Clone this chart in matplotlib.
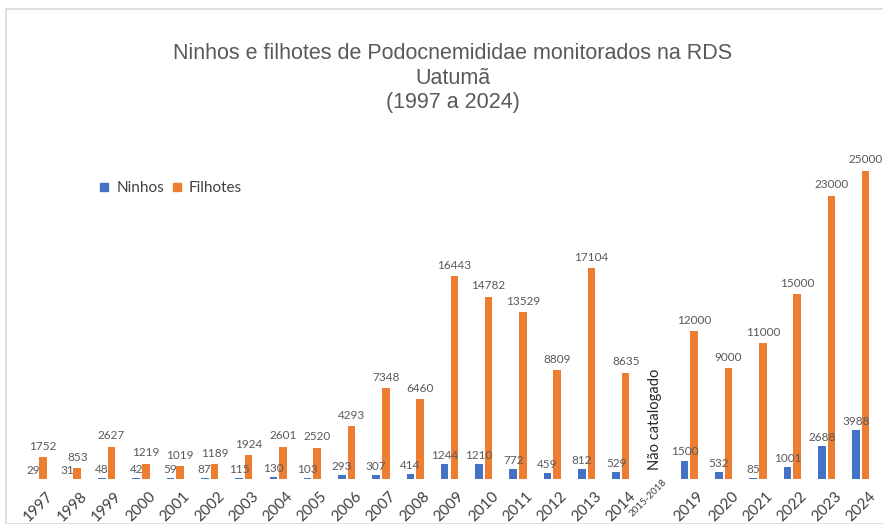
import matplotlib.pyplot as plt
import numpy as np
from matplotlib.patches import Rectangle
from matplotlib.lines import Line2D
from matplotlib.transforms import ScaledTranslation

categories = ["1997", "1998", "1999", "2000", "2001", "2002", "2003", "2004", "2005",
              "2006", "2007", "2008", "2009", "2010", "2011", "2012", "2013", "2014",
              "2015-2018", "2019", "2020", "2021", "2022", "2023", "2024"]
ninhos = [29, 31, 48, 42, 59, 87, 115, 130, 103, 293, 307, 414, 1244, 1210, 772, 459,
          812, 529, None, 1500, 532, 85, 1001, 2688, 3988]
filhotes = [1752, 853, 2627, 1219, 1019, 1189, 1924, 2601, 2520, 4293, 7348, 6460, 16443,
            14782, 13529, 8809, 17104, 8635, None, 12000, 9000, 11000, 15000, 23000, 25000]

BLUE = "#4472C4"
ORANGE = "#ED7D31"
LABEL = "#595959"

fig = plt.figure(figsize=(8.83, 5.24), dpi=100)
fig.patches.append(Rectangle((6/883, 0), 1, 1 - 9/524, transform=fig.transFigure,
                             fill=False, edgecolor="#d9d9d9", linewidth=1.2))
ax = fig.add_axes([21/883, 1 - 479/524, 857/883, (479 - 146.4)/524])

x = np.arange(len(categories))
w = 0.22
off = 0.14
for i in x:
    if ninhos[i] is not None:
        ax.bar(i - off, ninhos[i], width=w, color=BLUE, zorder=2)
        ax.text(i - off, ninhos[i] + 250, str(ninhos[i]), ha="center", va="bottom",
                fontsize=8.5, color=LABEL, family="Lato")
    if filhotes[i] is not None:
        ax.bar(i + off, filhotes[i], width=w, color=ORANGE, zorder=2)
        ax.text(i + off, filhotes[i] + 450, str(filhotes[i]), ha="center", va="bottom",
                fontsize=8.5, color=LABEL, family="Lato")

ax.text(18, 700, "Não catalogado", rotation=90, ha="center", va="bottom",
        fontsize=10.5, color="#262626", family="Lato")

ax.set_xlim(-0.5, len(categories) - 0.5)
ax.set_ylim(0, 27000)
ax.set_xticks(x)
tick_texts = [c if c != "2015-2018" else "" for c in categories]
ax.set_xticklabels(tick_texts, rotation=45, ha="center", va="top",
                   fontsize=11, color="#404040", family="Lato")
ax.tick_params(axis="x", length=0, pad=7.5)
# small label for the gap period
gi = categories.index("2015-2018")
ax.text(gi, 0, categories[gi], rotation=45, ha="center", va="top", fontsize=7,
        color="#404040", family="Lato",
        transform=ax.get_xaxis_transform() + ScaledTranslation(-7/100, 2/100, fig.dpi_scale_trans))
ax.set_yticks([])
for s in ["left", "right", "top", "bottom"]:
    ax.spines[s].set_visible(False)

fig.text(453/883, 1 - 78/524, "Ninhos e filhotes de Podocnemididae monitorados na RDS\nUatumã\n(1997 a 2024)",
         ha="center", va="center", fontsize=15.5, color=LABEL, family="Liberation Sans",
         linespacing=1.23)

handles = [Line2D([], [], marker="s", linestyle="none", color=BLUE, markersize=6),
           Line2D([], [], marker="s", linestyle="none", color=ORANGE, markersize=6)]
fig.legend(handles, ["Ninhos", "Filhotes"], loc="center left",
           bbox_to_anchor=(83/883, 1 - 188/524), ncol=2, frameon=False,
           prop={"family": "Lato", "size": 11}, handletextpad=0.3, columnspacing=0.3,
           handlelength=1.0, labelcolor="#404040")

fig.savefig("out.png", dpi=100)
